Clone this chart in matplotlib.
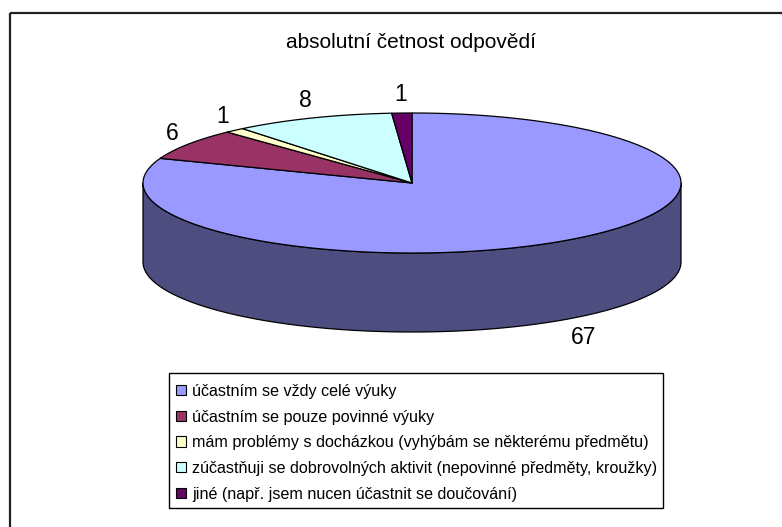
import numpy as np
import matplotlib
matplotlib.use("Agg")
import matplotlib.pyplot as plt
from matplotlib.patches import Polygon, Rectangle, Patch

plt.rcParams['font.family'] = ['Liberation Sans', 'DejaVu Sans']

title = "absolutní četnost odpovědí"
categories = [
    "účastním se vždy celé výuky",
    "účastním se pouze povinné výuky",
    "mám problémy s docházkou (vyhýbám se některému předmětu)",
    "zúčastňuji se dobrovolných aktivit (nepovinné předměty, kroužky)",
    "jiné (např. jsem nucen účastnit se doučování)",
]
values = [67, 6, 1, 8, 1]
colors = ["#9999FF", "#993366", "#FFFFCC", "#CCFFFF", "#660066"]

W, H = 782, 527
fig = plt.figure(figsize=(W / 100, H / 100), dpi=100)
ax = fig.add_axes([0, 0, 1, 1])
ax.set_xlim(0, W)
ax.set_ylim(H, 0)
ax.axis('off')

# outer frame
ax.add_patch(Rectangle((10, 13), W, H, fill=False, edgecolor='#222222', lw=1.6, zorder=0))

# 3D pie geometry (pixel layout)
cx, cy = 412, 183
rx, ry = 269, 70
depth = 79


def shade(c, f=0.5):
    r, g, b = matplotlib.colors.to_rgb(c)
    return (r * f, g * f, b * f)


def pt(theta_deg, dy=0.0):
    t = np.radians(theta_deg)
    return cx + rx * np.sin(t), cy - ry * np.cos(t) + dy


total = sum(values)
starts = np.concatenate([[0], np.cumsum(values)[:-1]]) / total * 360
ends = np.cumsum(values) / total * 360

# side walls (front half: 90..270 degrees)
for s, e, c in zip(starts, ends, colors):
    a0, a1 = max(s, 90), min(e, 270)
    if a1 <= a0:
        continue
    th = np.linspace(a0, a1, 200)
    top = [pt(t) for t in th]
    bot = [pt(t, depth) for t in th[::-1]]
    ax.add_patch(Polygon(top + bot, closed=True, facecolor=shade(c), edgecolor='black',
                         lw=0.9, zorder=2, joinstyle='round'))

# top faces
for s, e, c in zip(starts, ends, colors):
    th = np.linspace(s, e, max(int((e - s) * 2), 4))
    verts = [(cx, cy)] + [pt(t) for t in th]
    ax.add_patch(Polygon(verts, closed=True, facecolor=c, edgecolor='black',
                         lw=0.9, zorder=3, joinstyle='round'))

# data labels
for s, e, v in zip(starts, ends, values):
    m = np.radians((s + e) / 2)
    sx = 1.07 if np.sin(m) < 0 else 1.12
    lx = cx + sx * rx * np.sin(m)
    ly = cy - (ry + 19) * np.cos(m)
    if np.cos(m) < 0:
        ly += depth + 2
    ax.text(lx, ly, str(v), ha='center', va='center', fontsize=16.5, color='black', zorder=5)

ax.text(W / 2 + 20, 43, title, ha='center', va='center', fontsize=15, color='black')

# legend box and entries
ax.add_patch(Rectangle((169, 373), 494, 135, fill=False, edgecolor='black', lw=1.0, zorder=4))
handles = [Patch(facecolor=c, edgecolor='black', lw=0.8) for c in colors]
leg = fig.legend(handles, categories, loc='upper left',
                 bbox_to_anchor=(176 / W, 1 - 384 / H), bbox_transform=fig.transFigure,
                 fontsize=11.6, frameon=False,
                 handlelength=0.6, handleheight=0.6, handletextpad=0.4,
                 labelspacing=0.66, borderpad=0.0, borderaxespad=0)

fig.savefig("out.png", dpi=100)
